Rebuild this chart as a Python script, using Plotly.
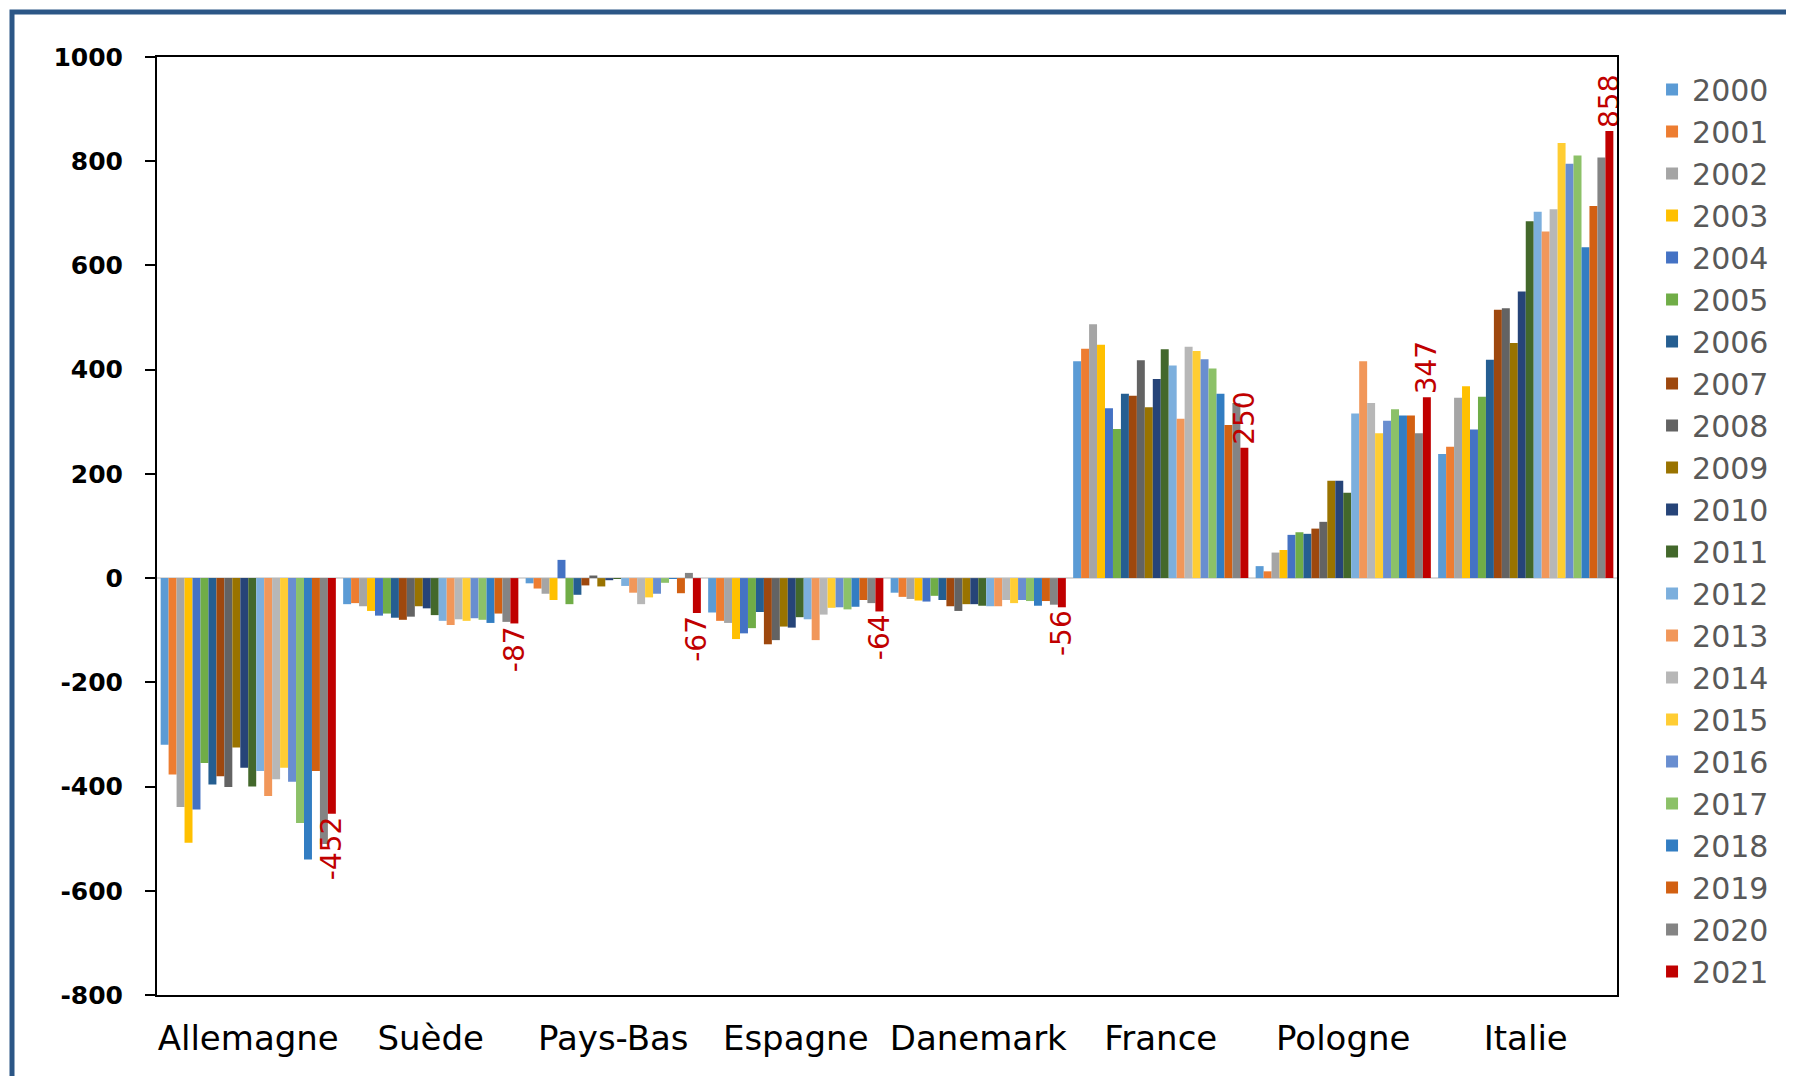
import plotly.graph_objects as go

countries = ["Allemagne", "Suède", "Pays-Bas", "Espagne", "Danemark", "France", "Pologne", "Italie"]
years = [str(y) for y in range(2000, 2022)]

# values per year, in country order above
v2000 = [-320, -50, -10, -66, -28, 416, 23, 238]
v2001 = [-377, -48, -20, -82, -36, 440, 13, 252]
v2002 = [-439, -54, -30, -86, -40, 487, 49, 346]
v2003 = [-508, -63, -42, -117, -43, 448, 54, 368]
v2004 = [-444, -72, 35, -106, -45, 326, 83, 285]
v2005 = [-355, -68, -50, -96, -34, 286, 88, 348]
v2006 = [-396, -76, -32, -65, -42, 354, 85, 419]
v2007 = [-380, -80, -14, -127, -54, 350, 95, 515]
v2008 = [-401, -74, 5, -119, -63, 418, 108, 518]
v2009 = [-325, -54, -16, -93, -50, 328, 187, 451]
v2010 = [-364, -58, -4, -95, -50, 382, 187, 550]
v2011 = [-400, -71, -1, -75, -53, 439, 164, 685]
v2012 = [-370, -82, -15, -79, -54, 408, 316, 703]
v2013 = [-418, -90, -28, -119, -54, 306, 416, 665]
v2014 = [-386, -79, -50, -70, -42, 444, 336, 708]
v2015 = [-364, -82, -37, -57, -48, 436, 278, 835]
v2016 = [-391, -77, -30, -56, -42, 420, 302, 795]
v2017 = [-470, -80, -9, -60, -44, 402, 324, 811]
v2018 = [-540, -86, -1, -55, -53, 354, 312, 635]
v2019 = [-370, -68, -29, -42, -44, 294, 312, 714]
v2020 = [-510, -84, 10, -48, -51, 336, 278, 807]
v2021 = [-452, -87, -67, -64, -56, 250, 347, 858]

series = [v2000, v2001, v2002, v2003, v2004, v2005, v2006, v2007, v2008, v2009, v2010,
          v2011, v2012, v2013, v2014, v2015, v2016, v2017, v2018, v2019, v2020, v2021]

y_tickvals = [1000, 800, 600, 400, 200, 0, -200, -400, -600, -800]
y_ticktext = ["1000", "800", "600", "400", "200", "0", "-200", "-400", "-600", "-800"]

colors = ["#5B9BD5", "#ED7D31", "#A5A5A5", "#FFC000", "#4472C4", "#70AD47", "#255E91",
          "#9E480E", "#636363", "#997300", "#264478", "#43682B", "#7CAFDD", "#F1975A",
          "#B7B7B7", "#FFCD33", "#698ED0", "#8CC168", "#327DC2", "#D26012", "#848484",
          "#C00000"]

FONT = "DejaVu Sans"

fig = go.Figure()
for i, (yr, vals) in enumerate(zip(years, series)):
    last = (i == len(years) - 1)
    fig.add_trace(go.Bar(
        x=countries, y=vals, name=yr,
        marker=dict(color=colors[i], line=dict(width=0)),
        text=[str(v) for v in vals] if last else None,
        textposition="outside" if last else "none",
        textangle=-90,
        textfont=dict(family=FONT, size=28, color="#C00000"),
        constraintext="none",
        cliponaxis=False,
    ))

L, R, T, B = 149, 185, 49, 89
W, H = 1794, 1076
pw, ph = W - L - R, H - T - B

fig.update_layout(
    width=W, height=H,
    margin=dict(l=L, r=R, t=T, b=B, pad=0),
    barmode="group", bargap=0.04, bargroupgap=0,
    paper_bgcolor="white", plot_bgcolor="white",
    showlegend=True,
    legend=dict(
        x=1.024, y=0.993, xanchor="left", yanchor="top",
        font=dict(family=FONT, size=30, color="#595959"),
        itemwidth=30, tracegroupgap=0, bgcolor="rgba(0,0,0,0)",
    ),
    xaxis=dict(
        showline=True, linecolor="black", linewidth=2, mirror=True,
        ticks="", showgrid=False,
        tickfont=dict(family=FONT, size=34, color="black"),
        ticklabelstandoff=12,
    ),
    yaxis=dict(
        range=[-800, 1000],
        tickmode="array", tickvals=y_tickvals, ticktext=y_ticktext,
        showline=True, linecolor="black", linewidth=2, mirror=True,
        ticks="outside", ticklen=10, tickcolor="black", tickwidth=2,
        showgrid=False,
        zeroline=True, zerolinecolor="#D9D9D9", zerolinewidth=2,
        tickfont=dict(family=FONT, size=25, color="black", weight="bold"),
        ticklabelstandoff=17,
    ),
    shapes=[dict(
        type="rect", xref="paper", yref="paper",
        x0=(4 - L) / pw, x1=1.5, y0=-0.5, y1=1 + (T - 4) / ph,
        line=dict(color="#2B5686", width=5), fillcolor="rgba(0,0,0,0)", layer="above",
    )],
)

fig.write_html("out.html")
